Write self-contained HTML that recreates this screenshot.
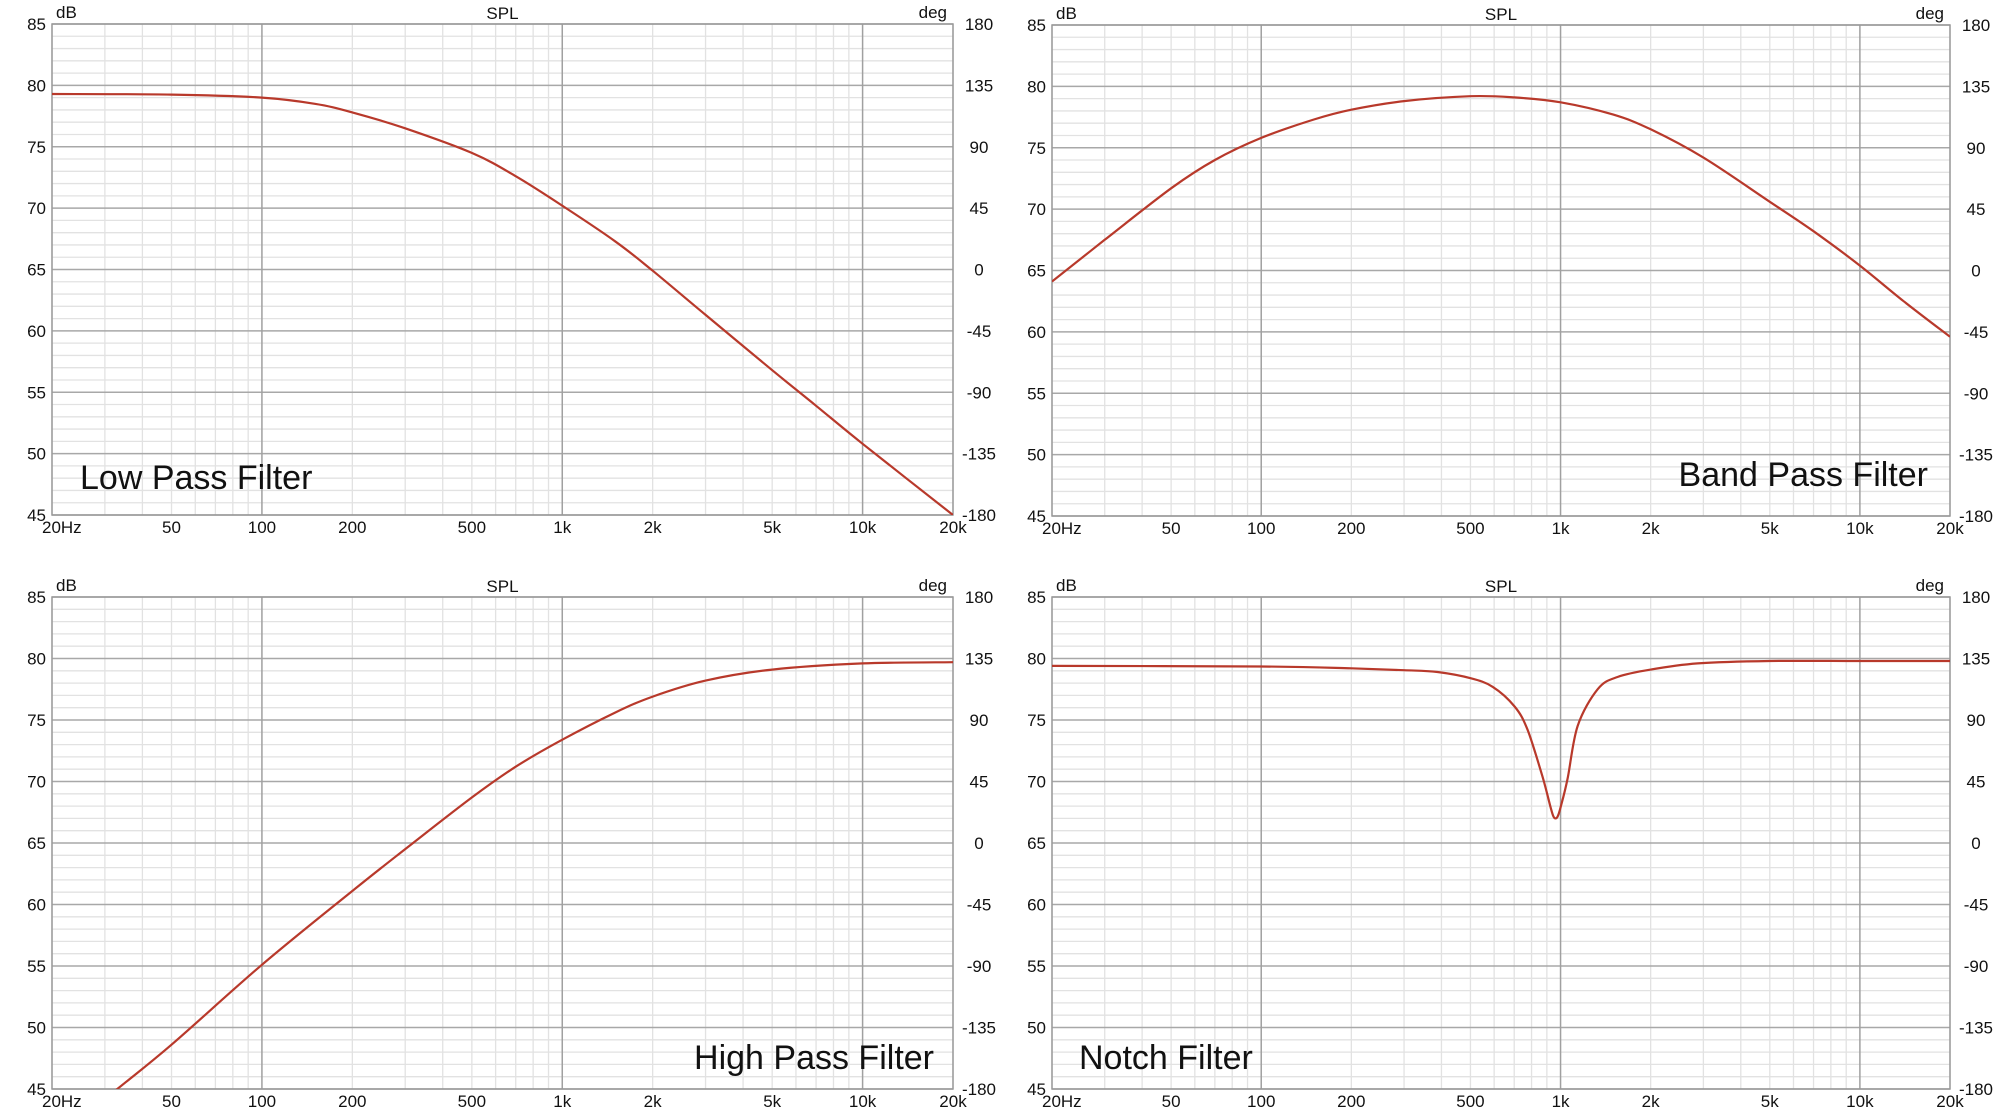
<!DOCTYPE html>
<html><head><meta charset="utf-8">
<style>
html,body{margin:0;padding:0;background:#fff;}
svg{display:block;}
text{font-family:"Liberation Sans",Arial,sans-serif;fill:#111;}
.big{font-size:34px;}
</style></head>
<body>
<svg id="chart" width="2000" height="1110" viewBox="0 0 2000 1110" xmlns="http://www.w3.org/2000/svg"></svg>
<script>
// Shared axes
const dbTicks = [85, 80, 75, 70, 65, 60, 55, 50, 45];
const degTicks = ["180", "135", "90", "45", "0", "-45", "-90", "-135", "-180"];
const freqTickValues = [20, 50, 100, 200, 500, 1000, 2000, 5000, 10000, 20000];
const freqTickLabels = ["20Hz", "50", "100", "200", "500", "1k", "2k", "5k", "10k", "20k"];

// Low pass series
const lpFreq = [20, 50, 100, 150, 200, 300, 500, 700, 1000, 1500, 2000, 3000, 5000, 7000, 10000, 20000];
const lpDb = [79.3, 79.25, 79.0, 78.5, 77.8, 76.5, 74.5, 72.6, 70.2, 67.3, 64.9, 61.3, 56.8, 53.9, 50.8, 45.0];
// Band pass series
const bpFreq = [20, 30, 50, 70, 100, 150, 200, 300, 500, 700, 1000, 1500, 2000, 3000, 5000, 7000, 10000, 14000, 20000];
const bpDb = [64.1, 67.5, 71.7, 74.0, 75.8, 77.3, 78.1, 78.8, 79.2, 79.1, 78.7, 77.7, 76.5, 74.2, 70.6, 68.2, 65.4, 62.5, 59.6];
// High pass series
const hpFreq = [20, 33, 50, 100, 200, 300, 500, 700, 1000, 1500, 2000, 3000, 5000, 10000, 20000];
const hpDb = [40.7, 45.0, 48.6, 55.1, 61.1, 64.5, 68.7, 71.2, 73.4, 75.6, 76.9, 78.2, 79.1, 79.6, 79.7];
// Notch series
const ntFreq = [20, 100, 200, 300, 388, 500, 593, 702, 776, 870, 926, 945, 962, 980, 1000, 1055, 1140, 1330, 1550, 2000, 2870, 5000, 10000, 20000];
const ntDb = [79.4, 79.35, 79.2, 79.05, 78.9, 78.4, 77.7, 76.1, 74.2, 70.4, 67.9, 67.2, 67.0, 67.2, 67.9, 70.2, 74.5, 77.5, 78.5, 79.1, 79.6, 79.8, 79.8, 79.8];

const panels = [
  {name:"low-pass", x0:52, x1:953, y0:24, y1:515, f:lpFreq, d:lpDb, label:"Low Pass Filter", lx:80, ly:489, anchor:"start"},
  {name:"band-pass", x0:1052, x1:1950, y0:25, y1:516, f:bpFreq, d:bpDb, label:"Band Pass Filter", lx:1928, ly:486, anchor:"end"},
  {name:"high-pass", x0:52, x1:953, y0:597, y1:1089, f:hpFreq, d:hpDb, label:"High Pass Filter", lx:934, ly:1069, anchor:"end"},
  {name:"notch", x0:1052, x1:1950, y0:597, y1:1089, f:ntFreq, d:ntDb, label:"Notch Filter", lx:1079, ly:1069, anchor:"start"}
];

const NS = "http://www.w3.org/2000/svg";
const svg = document.getElementById("chart");
function mk(tag, attrs, parent){
  const e = document.createElementNS(NS, tag);
  for (const k in attrs) e.setAttribute(k, attrs[k]);
  (parent||svg).appendChild(e);
  return e;
}
function smoothPath(pts){
  let d = "M" + pts[0][0].toFixed(1) + "," + pts[0][1].toFixed(1);
  for (let i = 0; i < pts.length - 1; i++) {
    const p0 = pts[Math.max(0, i-1)], p1 = pts[i], p2 = pts[i+1], p3 = pts[Math.min(pts.length-1, i+2)];
    const c1x = p1[0] + (p2[0]-p0[0])/6, c1y = p1[1] + (p2[1]-p0[1])/6;
    const c2x = p2[0] - (p3[0]-p1[0])/6, c2y = p2[1] - (p3[1]-p1[1])/6;
    d += "C" + c1x.toFixed(1) + "," + c1y.toFixed(1) + " " + c2x.toFixed(1) + "," + c2y.toFixed(1) + " " + p2[0].toFixed(1) + "," + p2[1].toFixed(1);
  }
  return d;
}

panels.forEach(p => {
  const g = mk("g", {});
  
  
  const xs = f => p.x0 + (Math.log10(f) - Math.log10(20)) / 3 * (p.x1 - p.x0);
  const ys = db => p.y0 + (85 - db) / 40 * (p.y1 - p.y0);

  for (let db = 45; db <= 85; db++) {
    if (db % 5 === 0) continue;
    const l = mk("line", {x1:p.x0, x2:p.x1, y1:ys(db), y2:ys(db), stroke:"#e2e2e2", "stroke-width":1.3}, g);
    
    
  }
  [10,100,1000,10000].forEach(dec => {
    for (let m = 1; m <= 9; m++) {
      const f = dec*m;
      if (f < 20 || f > 20000 || m === 1) continue;
      const l = mk("line", {x1:xs(f), x2:xs(f), y1:p.y0, y2:p.y1, stroke:"#e2e2e2", "stroke-width":1.3}, g);
      
      
    }
  });
  dbTicks.forEach((db, i) => {
    const l = mk("line", {x1:p.x0, x2:p.x1, y1:ys(db), y2:ys(db), stroke:"#a8a8a8", "stroke-width":1.5}, g);
    
    
    const t = mk("text", {x:p.x0-6, y:ys(db)+6, "text-anchor":"end", "font-size":"17"}, g);
    t.textContent = db;
    
    
    const t2 = mk("text", {x:p.x1+26, y:ys(db)+6, "text-anchor":"middle", "font-size":"17"}, g);
    t2.textContent = degTicks[i];
    
    
  });
  [100, 1000, 10000].forEach(f => {
    const l = mk("line", {x1:xs(f), x2:xs(f), y1:p.y0, y2:p.y1, stroke:"#a0a0a0", "stroke-width":1.5}, g);
    
    
  });
  freqTickValues.forEach((f, i) => {
    const first = i === 0;
    const t = mk("text", {x: first ? p.x0-10 : xs(f), y:p.y1+18, "text-anchor": first ? "start" : "middle", "font-size":"17"}, g);
    t.textContent = freqTickLabels[i];
    
    
  });
  const b = mk("rect", {x:p.x0, y:p.y0, width:p.x1-p.x0, height:p.y1-p.y0, fill:"none", stroke:"#999", "stroke-width":1.5}, g);
  
  
  const t1 = mk("text", {x:p.x0+4, y:p.y0-6, "font-size":"17"}, g);
  t1.textContent = "dB";
  
  
  const t2 = mk("text", {x:p.x1-6, y:p.y0-6, "text-anchor":"end", "font-size":"17"}, g);
  t2.textContent = "deg";
  
  
  const t3 = mk("text", {x:(p.x0+p.x1)/2, y:p.y0-5, "text-anchor":"middle", "font-size":"17"}, g);
  t3.textContent = "SPL";
  
  
  const cid = "clip-" + p.name;
  const cp = mk("clipPath", {id:cid}, g);
  mk("rect", {x:p.x0, y:p.y0, width:p.x1-p.x0, height:p.y1-p.y0}, cp);
  const pts = p.f.map((f, i) => [xs(f), ys(p.d[i])]);
  const path = mk("path", {d:smoothPath(pts), fill:"none", stroke:"#b8392b", "stroke-width":2.2, "stroke-linejoin":"round", "clip-path":"url(#"+cid+")"}, g);
  
  
  const lab = mk("text", {x:p.lx, y:p.ly, "text-anchor":p.anchor, class:"big"}, g);
  lab.textContent = p.label;
  
  
});
</script>
</body></html>
